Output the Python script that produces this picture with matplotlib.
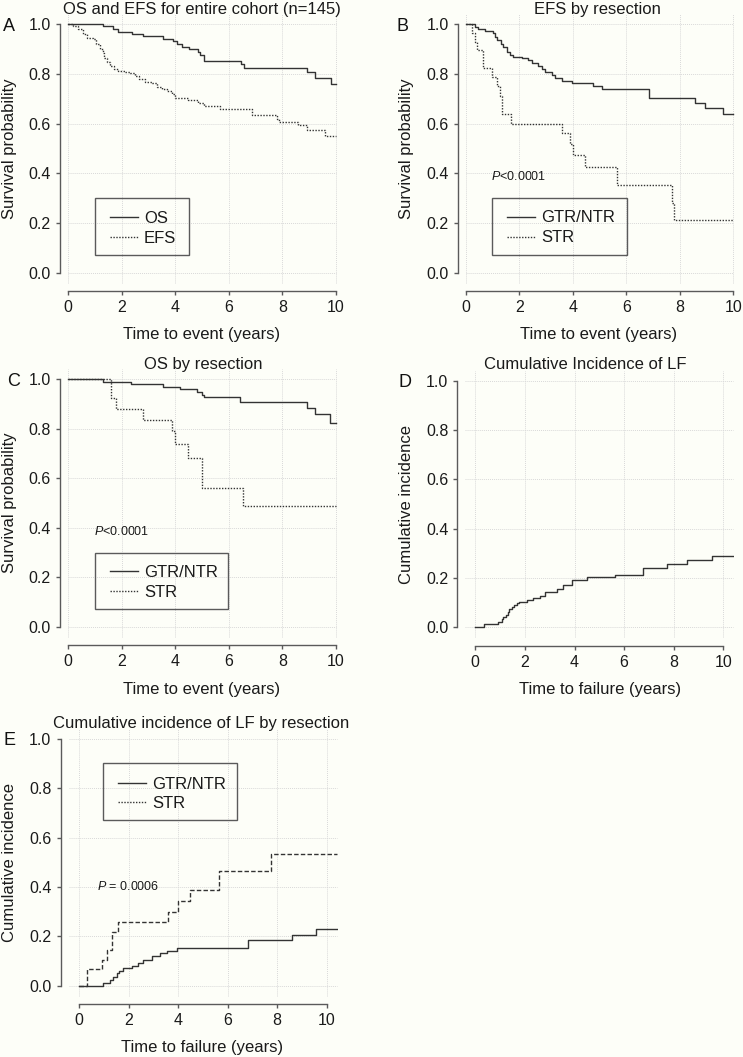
import matplotlib
matplotlib.use("Agg")
import matplotlib.pyplot as plt
from matplotlib.lines import Line2D
from matplotlib.patches import Rectangle

plt.rcParams['font.family'] = ['Liberation Sans', 'DejaVu Sans']
plt.rcParams['mathtext.fontset'] = 'custom'
plt.rcParams['mathtext.rm'] = 'Liberation Sans'
plt.rcParams['mathtext.it'] = 'Liberation Sans:italic'

# ---------------- data ----------------
# A: OS and EFS for entire cohort
os_t = [0, 1.31, 1.68, 1.87, 2.37, 2.80, 3.55, 3.92, 4.05, 4.24, 4.52, 4.86, 4.92, 5.07,
        6.45, 6.56, 8.93, 9.22, 9.80, 10.0]
os_s = [1.0, 0.993, 0.980, 0.968, 0.960, 0.952, 0.941, 0.931, 0.921, 0.910, 0.899, 0.890,
        0.876, 0.853, 0.840, 0.825, 0.807, 0.783, 0.758, 0.758]
efs_t = [0, 0.19, 0.37, 0.56, 0.69, 0.94, 1.03, 1.18, 1.28, 1.35, 1.43, 1.56, 1.71, 1.87,
         2.12, 2.30, 2.49, 2.65, 2.87, 3.11, 3.30, 3.49, 3.67, 3.86, 3.99, 4.48, 4.86, 5.07,
         5.67, 6.85, 7.78, 7.87, 8.59, 8.90, 9.59, 10.0]
efs_s = [1.0, 0.993, 0.980, 0.961, 0.944, 0.941, 0.921, 0.899, 0.883, 0.863, 0.850, 0.832,
         0.819, 0.813, 0.808, 0.803, 0.792, 0.781, 0.769, 0.762, 0.749, 0.738, 0.730, 0.720,
         0.702, 0.695, 0.685, 0.671, 0.660, 0.634, 0.617, 0.605, 0.593, 0.574, 0.552, 0.552]

# B: EFS by resection
gtr_efs_t = [0, 0.34, 0.46, 0.71, 1.02, 1.08, 1.15, 1.30, 1.40, 1.52, 1.65, 1.77, 2.08,
             2.33, 2.46, 2.71, 2.83, 2.96, 3.20, 3.33, 3.58, 3.95, 4.76, 5.08, 6.85, 8.57,
             8.94, 9.63, 10.0]
gtr_efs_s = [1.0, 0.990, 0.981, 0.972, 0.964, 0.950, 0.937, 0.921, 0.907, 0.890, 0.876,
             0.870, 0.863, 0.856, 0.846, 0.832, 0.819, 0.807, 0.796, 0.782, 0.773, 0.762,
             0.752, 0.738, 0.705, 0.685, 0.662, 0.638, 0.638]
str_efs_t = [0, 0.21, 0.34, 0.40, 0.62, 0.99, 1.15, 1.27, 1.36, 1.68, 3.58, 3.89, 4.02,
             4.45, 5.64, 7.72, 7.78, 10.0]
str_efs_s = [1.0, 0.965, 0.930, 0.897, 0.823, 0.787, 0.750, 0.710, 0.637, 0.600, 0.561,
             0.518, 0.474, 0.427, 0.353, 0.280, 0.212, 0.212]

# C: OS by resection
gtr_os_t = [0, 1.31, 2.34, 3.55, 4.17, 4.80, 4.98, 5.07, 6.41, 8.93, 9.22, 9.78, 10.0]
gtr_os_s = [1.0, 0.990, 0.981, 0.970, 0.959, 0.950, 0.937, 0.927, 0.910, 0.885, 0.858,
            0.825, 0.825]
str_os_t = [0, 1.60, 1.78, 2.78, 3.89, 3.97, 4.48, 4.98, 6.51, 10.0]
str_os_s = [1.0, 0.923, 0.880, 0.835, 0.790, 0.738, 0.683, 0.559, 0.488, 0.488]

# D: cumulative incidence of LF
lf_t = [0, 0.35, 0.93, 1.06, 1.13, 1.24, 1.31, 1.37, 1.47, 1.56, 1.67, 1.78, 2.07, 2.34,
        2.61, 2.81, 3.28, 3.55, 3.89, 4.49, 5.63, 6.78, 7.72, 8.52, 9.53, 10.38]
lf_c = [0, 0.0135, 0.023, 0.034, 0.043, 0.050, 0.064, 0.073, 0.081, 0.090, 0.097, 0.104,
        0.111, 0.118, 0.127, 0.145, 0.154, 0.172, 0.192, 0.203, 0.212, 0.239, 0.255, 0.273,
        0.290, 0.290]

# E: cumulative incidence of LF by resection
gtr_lf_t = [0, 0.98, 1.25, 1.39, 1.52, 1.63, 1.79, 2.13, 2.40, 2.60, 2.93, 3.27, 3.54,
            3.94, 6.84, 8.59, 9.57, 10.40]
gtr_lf_c = [0, 0.012, 0.023, 0.036, 0.050, 0.061, 0.070, 0.080, 0.091, 0.104, 0.120,
            0.131, 0.142, 0.154, 0.185, 0.204, 0.231, 0.231]
str_lf_t = [0, 0.31, 0.92, 1.12, 1.32, 1.59, 3.61, 3.98, 4.48, 5.65, 7.74, 10.40]
str_lf_c = [0, 0.068, 0.104, 0.145, 0.219, 0.257, 0.297, 0.345, 0.388, 0.465, 0.532, 0.532]

x_ticks = [0, 2, 4, 6, 8, 10]
y_ticks = [0.0, 0.2, 0.4, 0.6, 0.8, 1.0]

# ---------------- styling ----------------
W, H = 743, 1057
BG = '#fdfef8'
LINE = '#333333'
SPINE = '#5a5a5a'
GRID = '#d8d8d8'
DOT = (0, (1, 1.1))
DASH = (0, (3.2, 1.6))

fig = plt.figure(figsize=(W / 100, H / 100), dpi=100, facecolor=BG)


def fx(x):
    return x / W


def fy(y):
    return 1 - y / H


def panel(x0, x10, xsp, y1, y0, ysp, xright, gx):
    sx = (x10 - x0) / 10.0
    sy = (y0 - y1)
    xleft = (xsp - x0) / sx
    right_px = x0 + xright * sx
    top_px = y1 - 0.04 * sy
    ybot = -(ysp - y0) / sy
    ax = fig.add_axes([fx(xsp), fy(ysp), (right_px - xsp) / W, (ysp - top_px) / H])
    ax.set_facecolor('none')
    ax.set_xlim(xleft, xright)
    ax.set_ylim(ybot, 1.04)
    for s in ('top', 'right'):
        ax.spines[s].set_visible(False)
    ax.spines['left'].set_bounds(0, 1)
    ax.spines['bottom'].set_bounds(0, 10)
    for s in ('left', 'bottom'):
        ax.spines[s].set_color(SPINE)
        ax.spines[s].set_linewidth(1.0)
    ax.set_xticks(x_ticks)
    ax.set_yticks(y_ticks)
    ax.set_yticklabels([f'{v:.1f}' for v in y_ticks])
    ax.set_xticklabels([str(v) for v in x_ticks])
    ax.tick_params(length=3.0, width=1.0, color=SPINE, labelsize=11.5,
                   labelcolor='#1a1a1a', pad=3.5)
    ax.hlines(y_ticks, gx[0], gx[1], color=GRID, lw=0.7, linestyle=DOT, zorder=0)
    ax.vlines(x_ticks, -0.04, 1.04, color=GRID, lw=0.7, linestyle=DOT, zorder=0)
    return ax


def legend_box(x, y, w, labels, styles, r1=18.5, r2=38.5):
    h = 56.7
    fig.add_artist(Rectangle((fx(x), fy(y + h)), w / W, h / H, transform=fig.transFigure,
                             facecolor='none', edgecolor=SPINE, lw=1.0))
    for lab, ls, r in zip(labels, styles, (r1, r2)):
        fig.add_artist(Line2D([fx(x + 14.5), fx(x + 43)], [fy(y + r)] * 2,
                              transform=fig.transFigure, color=LINE, lw=1.0, linestyle=ls))
        fig.text(fx(x + 49), fy(y + r + 6), lab, fontsize=12, va='baseline', ha='left',
                 color='#1a1a1a')


def label_texts(title, tx, tb, xlab, xx, xb, ylab, yx, yc, letter, lx, lb):
    fig.text(fx(tx), fy(tb), title, fontsize=12, ha='center', va='baseline', color='#1a1a1a')
    fig.text(fx(xx), fy(xb), xlab, fontsize=12, ha='center', va='baseline', color='#1a1a1a')
    fig.text(fx(yx), fy(yc), ylab, fontsize=12, ha='center', va='center', rotation=90,
             color='#1a1a1a')
    fig.text(fx(lx), fy(lb), letter, fontsize=13, ha='left', va='baseline', color='#111111')


# ---- A ----
axA = panel(68.3, 336, 60, 24.3, 272.7, 291, 10.1, (0, 10))
axA.step(os_t, os_s, where='post', color=LINE, lw=1.0)
axA.step(efs_t, efs_s, where='post', color=LINE, lw=1.0, linestyle=DOT)
label_texts('OS and EFS for entire cohort (n=145)', 202, 14, 'Time to event (years)', 201.5,
            339.3, 'Survival probability', 9.5, 148.5, 'A', 2.7, 30.7)
legend_box(95, 198.3, 94.3, ['OS', 'EFS'], ['-', DOT])

# ---- B ----
axB = panel(466, 733.3, 457.7, 24.3, 272.7, 291, 10.1, (0, 10))
axB.step(gtr_efs_t, gtr_efs_s, where='post', color=LINE, lw=1.0)
axB.step(str_efs_t, str_efs_s, where='post', color=LINE, lw=1.0, linestyle=DOT)
label_texts('EFS by resection', 597, 14, 'Time to event (years)', 599, 339.3,
            'Survival probability', 406.5, 148.5, 'B', 397, 30.7)
legend_box(492, 198, 135, ['GTR/NTR', 'STR'], ['-', DOT])
fig.text(fx(491), fy(180), r'$P$<0.0001', fontsize=9, ha='left', va='baseline', color='#1a1a1a')

# ---- C ----
axC = panel(68.3, 336, 60, 379.3, 626.7, 645, 10.1, (0, 10))
axC.step(gtr_os_t, gtr_os_s, where='post', color=LINE, lw=1.0)
axC.step(str_os_t, str_os_s, where='post', color=LINE, lw=1.0, linestyle=DOT)
label_texts('OS by resection', 203.5, 369, 'Time to event (years)', 201.5, 694.3,
            'Survival probability', 9.5, 503, 'C', 6.7, 385.7)
legend_box(95, 552.7, 133.3, ['GTR/NTR', 'STR'], ['-', DOT])
fig.text(fx(94.3), fy(535), r'$P$<0.0001', fontsize=9, ha='left', va='baseline', color='#1a1a1a')

# ---- D ----
axD = panel(475.3, 723.3, 457.3, 380.7, 627.3, 646, 10.45, (-0.42, 10.4))
axD.step(lf_t, lf_c, where='post', color=LINE, lw=1.0)
label_texts('Cumulative Incidence of LF', 585, 369, 'Time to failure (years)', 600, 694.3,
            'Cumulative incidence', 406.5, 504, 'D', 398.3, 386.7)

# ---- E ----
axE = panel(79, 326.7, 60.5, 739, 985.7, 1004, 10.45, (-0.42, 10.4))
axE.step(gtr_lf_t, gtr_lf_c, where='post', color=LINE, lw=1.0)
axE.step(str_lf_t, str_lf_c, where='post', color=LINE, lw=1.0, linestyle=DASH)
label_texts('Cumulative incidence of LF by resection', 201.5, 728.3, 'Time to failure (years)',
            202.5, 1052.3, 'Cumulative incidence', 9.5, 862, 'E', 3.3, 745)
legend_box(103.3, 763.3, 134, ['GTR/NTR', 'STR'], ['-', DOT], r1=20, r2=38.4)
fig.text(fx(96.7), fy(890), r'$P$ = 0.0006', fontsize=9, ha='left', va='baseline', color='#1a1a1a')

fig.savefig('out.png', dpi=100, facecolor=BG)
